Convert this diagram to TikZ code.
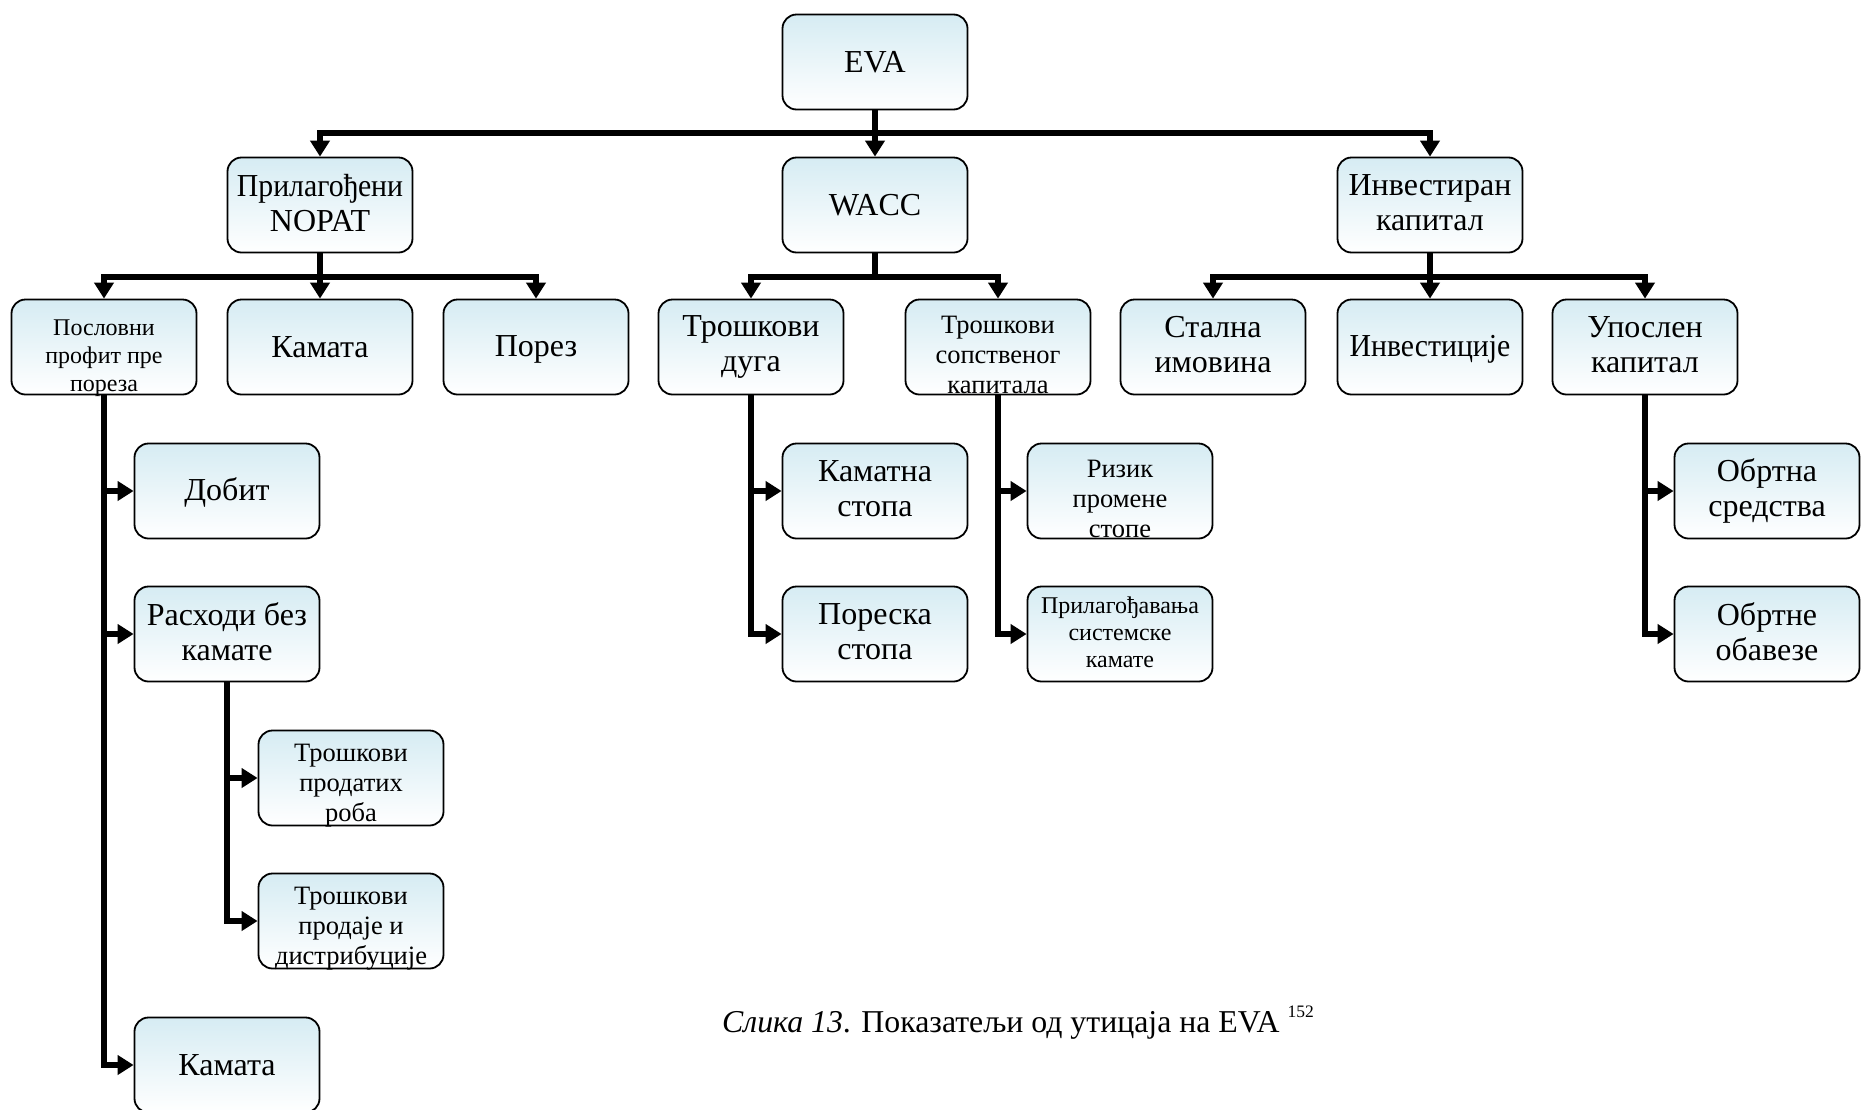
\documentclass[tikz,border=0pt]{standalone}
\usepackage{fontspec}
\setmainfont{Liberation Serif}
\usetikzlibrary{arrows.meta}
\definecolor{boxtop}{RGB}{214,236,243}
\tikzset{
  box/.style={draw=black, line width=1.8pt, rounded corners=14pt,
    minimum width=185pt, minimum height=95pt, top color=boxtop, bottom color=white,
    align=center, inner sep=2pt,
    execute at begin node={\rule{0pt}{0.8em}},
    execute at end node={\rule[-0.16em]{0pt}{0.16em}}},
  big/.style={font=\fontsize{32}{35}\selectfont},
  mid/.style={font=\fontsize{26.5}{30}\selectfont},
  psl/.style={font=\fontsize{24}{28}\selectfont},
  sml/.style={font=\fontsize{24}{27}\selectfont},
  txt/.style={align=center, inner sep=0pt},
  conn/.style={line width=6pt, -{Triangle[width=19pt,length=16pt]}},
  bar/.style={line width=6pt},
  cut/.style={rounded corners=13pt},
}
\newcommand{\narrow}[1]{{\addfontfeature{FakeStretch=0.93}#1}}
\begin{document}
\begin{tikzpicture}[x=1pt,y=-1pt]
\useasboundingbox[fill=white] (0,0) rectangle (1861,1109);

% level 1 and 2
\node[box,big] (eva) at (875,62) {EVA};
\node[box,big] (nopat) at (320,205) {\narrow{Прилагођени}\\NOPAT};
\node[box,big] (wacc) at (875,205) {WACC};
\node[box,big] (inv) at (1430,205) {Инвестиран\\капитал};

% level 3
\node[box] (posl) at (104,347) {};
\begin{scope}
\clip[cut] ([shift={(1,1)}]posl.south west) rectangle ([shift={(-1,-1)}]posl.north east);
\node[txt,psl] (poslt) at (104,358.4) {Пословни\\профит пре\\пореза};
\end{scope}
\node[box,big] (kam1) at (320,347) {Камата};
\node[box,big] (porez) at (536,347) {Порез};
\node[box,big] (dug) at (751,347) {Трошкови\\дуга};
\node[box] (sops) at (998,347) {};
\begin{scope}
\clip[cut] ([shift={(1,1)}]sops.south west) rectangle ([shift={(-1,-1)}]sops.north east);
\node[txt,mid] (sopst) at (998,354.5) {Трошкови\\сопственог\\капитала};
\end{scope}
\node[box,big] (stal) at (1213,347) {Стална\\имовина};
\node[box,big] (invest) at (1430,347) {\narrow{Инвестиције}};
\node[box,big] (upos) at (1645,347) {Упослен\\капитал};

% level 4
\node[box,big] (dobit) at (227,491) {Добит};
\node[box,big] (rash) at (227,634) {Расходи без\\камате};
\node[box] (tpr) at (351,778) {};
\begin{scope}
\clip[cut] ([shift={(1,1)}]tpr.south west) rectangle ([shift={(-1,-1)}]tpr.north east);
\node[txt,mid] (tprt) at (351,786) {Трошкови\\продатих\\роба};
\end{scope}
\node[box] (tpd) at (351,921) {};
\begin{scope}
\clip[cut] ([shift={(1,1)}]tpd.south west) rectangle ([shift={(-1,-1)}]tpd.north east);
\node[txt,mid] (tpdt) at (351,929) {Трошкови\\продаје и\\дистрибуције};
\end{scope}
\node[box,big] (kam2) at (227,1065) {Камата};

\node[box,big] (kst) at (875,491) {Каматна\\стопа};
\node[box,big] (pst) at (875,634) {Пореска\\стопа};
\node[box] (riz) at (1120,491) {};
\begin{scope}
\clip[cut] ([shift={(1,1)}]riz.south west) rectangle ([shift={(-1,-1)}]riz.north east);
\node[txt,mid] (rizt) at (1120,498.5) {Ризик\\промене\\стопе};
\end{scope}
\node[box,sml] (pril) at (1120,634) {Прилагођавања\\системске\\камате};
\node[box,big] (obs) at (1767,491) {Обртна\\средства};
\node[box,big] (obo) at (1767,634) {Обртне\\обавезе};

% connectors level 1 -> 2
\coordinate (b0) at (875,133);
\draw[bar] (eva.south) -- (b0);
\draw[conn] (b0) -- (wacc.north);
\draw[conn] (b0) -| (nopat.north);
\draw[conn] (b0) -| (inv.north);

% level 2 -> 3
\coordinate (b1) at (320,277);
\draw[bar] (nopat.south) -- (b1);
\draw[conn] (b1) -- (kam1.north);
\draw[conn] (b1) -| (posl.north);
\draw[conn] (b1) -| (porez.north);

\coordinate (b2) at (875,277);
\draw[bar] (wacc.south) -- (b2);
\draw[conn] (b2) -| (dug.north);
\draw[conn] (b2) -| (sops.north);

\coordinate (b3) at (1430,277);
\draw[bar] (inv.south) -- (b3);
\draw[conn] (b3) -- (invest.north);
\draw[conn] (b3) -| (stal.north);
\draw[conn] (b3) -| (upos.north);

% level 3 -> 4
\draw[conn] (posl.south) |- (dobit.west);
\draw[conn] (posl.south) |- (rash.west);
\draw[conn] (posl.south) |- (kam2.west);
\draw[conn] (rash.south) |- (tpr.west);
\draw[conn] (rash.south) |- (tpd.west);
\draw[conn] (dug.south) |- (kst.west);
\draw[conn] (dug.south) |- (pst.west);
\draw[conn] (sops.south) |- (riz.west);
\draw[conn] (sops.south) |- (pril.west);
\draw[conn] (upos.south) |- (obs.west);
\draw[conn] (upos.south) |- (obo.west);

% caption
\node[anchor=base west, inner sep=0pt, font=\fontsize{31.8}{36}\selectfont] (cap) at (722,1032)
  {\textit{Слика 13}. Показатељи од утицаја на EVA \raisebox{15pt}{\fontsize{17.5}{17.5}\selectfont 152}};
\end{tikzpicture}
\end{document}
